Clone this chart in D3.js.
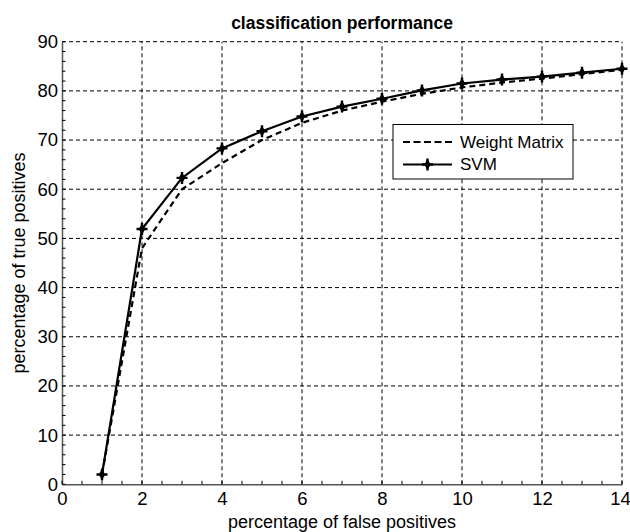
<!DOCTYPE html>
<html><head><meta charset="utf-8">
<script src="https://cdn.jsdelivr.net/npm/d3@7"></script>
<style>body{margin:0;background:#fff}svg{display:block}text{font-family:"Liberation Sans",Arial,sans-serif;fill:#000}</style>
</head><body><svg id="c" width="630" height="532"></svg>
<script>
const xs = [1,2,3,4,5,6,7,8,9,10,11,12,13,14];
const weightMatrix = [2,48,60,65.3,70,73.5,76,77.8,79.4,80.7,81.7,82.5,83.4,84.3];
const svm = [2,51.9,62.3,68.3,71.8,74.8,76.8,78.4,80.1,81.5,82.3,82.9,83.7,84.5];
const xTicks = [0,2,4,6,8,10,12,14];
const yTicks = [0,10,20,30,40,50,60,70,80,90];
const title = "classification performance";
const xLabel = "percentage of false positives";
const yLabel = "percentage of true positives";
const seriesNames = ["Weight Matrix","SVM"];

const svg = d3.select("#c");
const x = d3.scaleLinear().domain([0,14]).range([62,622]);
const y = d3.scaleLinear().domain([0,90]).range([484.3,41.7]);

// grid
const g = svg.append("g");
g.selectAll(".vg").data(xTicks.filter(d=>d>0)).join("line")
  .attr("x1",d=>x(d)).attr("x2",d=>x(d)).attr("y1",y(0)).attr("y2",y(90))
  .attr("stroke","#000").attr("stroke-width",1).attr("stroke-dasharray","4,3");
g.selectAll(".hg").data(yTicks.filter(d=>d>0)).join("line")
  .attr("y1",d=>y(d)).attr("y2",d=>y(d)).attr("x1",x(0)).attr("x2",x(14))
  .attr("stroke","#000").attr("stroke-width",1).attr("stroke-dasharray","4,3");

// axes
const xAxis = d3.axisBottom(x).tickValues(xTicks).tickSize(0).tickPadding(8).tickFormat(d3.format("d"));
const yAxis = d3.axisLeft(y).tickValues(yTicks).tickSize(0).tickPadding(4).tickFormat(d3.format("d"));
const gx = svg.append("g").attr("transform",`translate(0,${y(0)})`).call(xAxis);
const gy = svg.append("g").attr("transform",`translate(${x(0)},0)`).call(yAxis);
[gx,gy].forEach(a=>{a.select(".domain").attr("stroke","#555").attr("stroke-width",1.5);
  a.selectAll("text").style("font-size","18.5px").attr("fill","#000");});
gx.selectAll("text").attr("dy","0.71em");
gx.selectAll("text").filter(d=>d===14).attr("dx",-2);
// minor ticks
const xMinor = d3.range(0,14.01,0.5);
svg.append("g").selectAll("line").data(xMinor).join("line")
  .attr("x1",d=>x(d)).attr("x2",d=>x(d)).attr("y1",y(0)).attr("y2",y(0)-3.5)
  .attr("stroke","#000").attr("stroke-width",1);
const yMinor = d3.range(0,90.01,2);
svg.append("g").selectAll("line").data(yMinor).join("line")
  .attr("y1",d=>y(d)).attr("y2",d=>y(d)).attr("x1",x(0)).attr("x2",x(0)+3.5)
  .attr("stroke","#000").attr("stroke-width",1);

// lines
const line = d3.line().x((d,i)=>x(xs[i])).y(d=>y(d));
svg.append("path").datum(weightMatrix).attr("d",line).attr("fill","none")
  .attr("stroke","#000").attr("stroke-width",2.2).attr("stroke-dasharray","6,4");
svg.append("path").datum(svm).attr("d",line).attr("fill","none")
  .attr("stroke","#000").attr("stroke-width",2.2);

function marker(sel){
  sel.append("path").attr("d","M-5.5,0L5.5,0M0,-6L0,6").attr("stroke","#000").attr("stroke-width",2.4);
  sel.append("path").attr("d",d3.symbol(d3.symbolDiamond,36)()).attr("fill","#000");
}
svg.append("g").selectAll("g").data(svm).join("g")
  .attr("transform",(d,i)=>`translate(${x(xs[i])},${y(d)})`).each(function(){marker(d3.select(this));});

// legend
const lg = svg.append("g");
lg.append("rect").attr("x",393).attr("y",124.5).attr("width",180).attr("height",54.5)
  .attr("fill","#fff").attr("stroke","#000").attr("stroke-width",1);
lg.append("line").attr("x1",403).attr("x2",452).attr("y1",142).attr("y2",142)
  .attr("stroke","#000").attr("stroke-width",2.2).attr("stroke-dasharray","7,3.5");
lg.append("line").attr("x1",403).attr("x2",452).attr("y1",164.5).attr("y2",164.5)
  .attr("stroke","#000").attr("stroke-width",2.2);
marker(lg.append("g").attr("transform","translate(427.5,164.5)"));
lg.append("text").attr("x",460).attr("y",142).attr("dy","0.35em").style("font-size","17px").text(seriesNames[0]);
lg.append("text").attr("x",460).attr("y",164.5).attr("dy","0.35em").style("font-size","17px").text(seriesNames[1]);

// titles
svg.append("text").attr("x",342).attr("y",28.5).attr("text-anchor","middle")
  .style("font-size","17.5px").style("font-weight","bold").text(title);
svg.append("text").attr("x",342).attr("y",528).attr("text-anchor","middle")
  .style("font-size","18px").text(xLabel);
svg.append("text").attr("transform","translate(25,263) rotate(-90)").attr("text-anchor","middle")
  .style("font-size","18px").text(yLabel);
</script></body></html>
